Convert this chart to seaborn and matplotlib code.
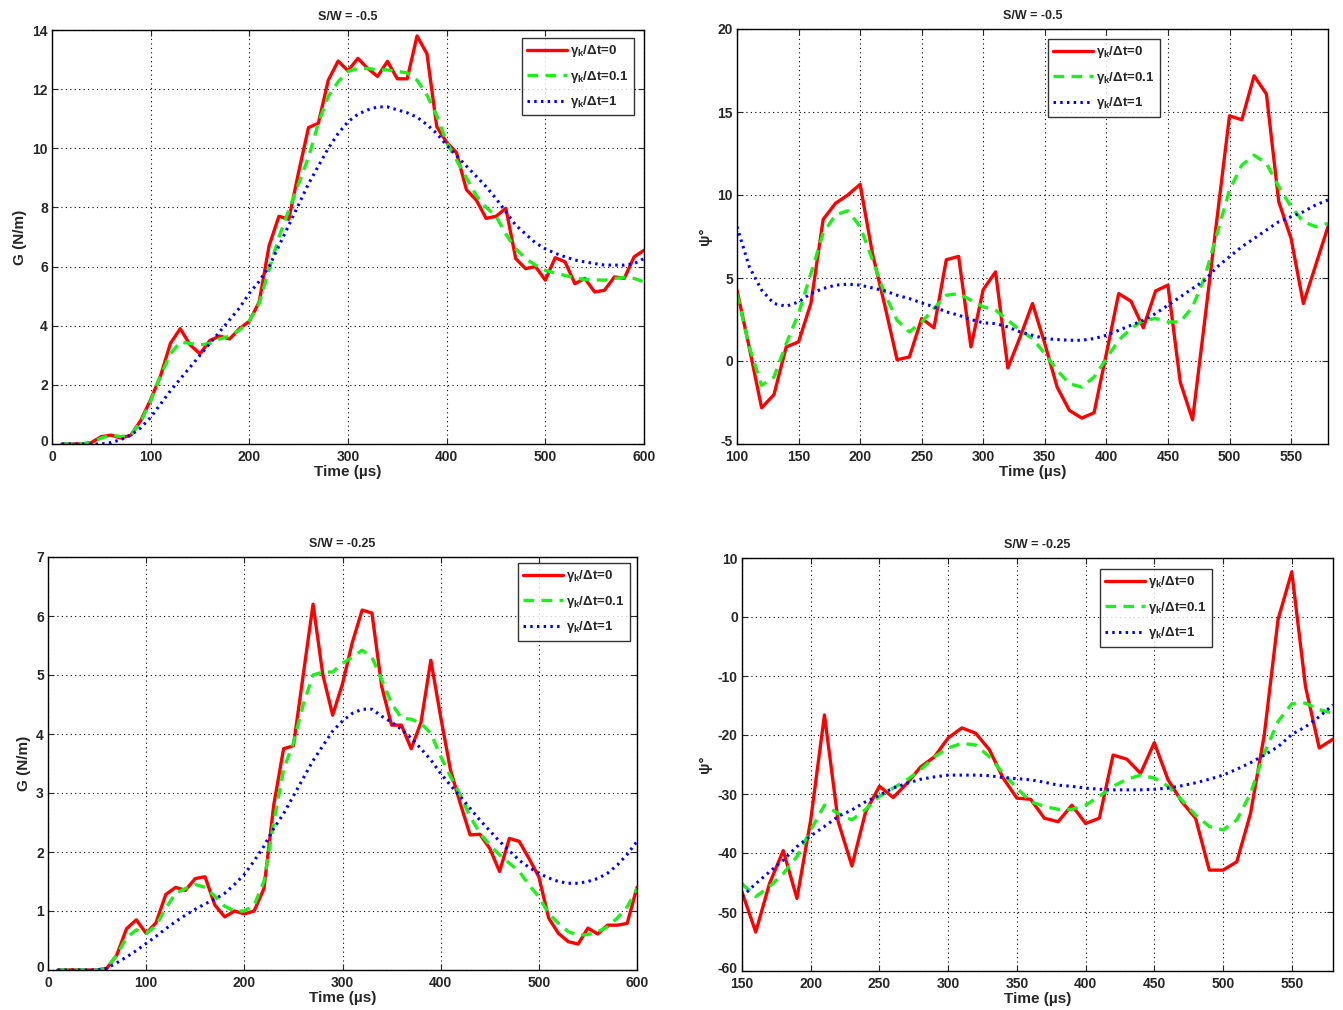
import numpy as np
import pandas as pd
import matplotlib
matplotlib.use("Agg")
import matplotlib.pyplot as plt
import matplotlib.transforms as mtransforms
import seaborn as sns

# ---------------- data ----------------
t_G = list(range(10, 610, 10))          # 10..600
t_psi1 = list(range(100, 590, 10))      # 100..580
t_psi2 = list(range(150, 590, 10))      # 150..580

G1_r = [0, 0, 0, 0.05, 0.25, 0.3, 0.2, 0.3, 0.8, 1.5, 2.3, 3.4, 3.9, 3.35, 3.05, 3.5, 3.65, 3.55, 3.9, 4.15,
        4.8, 6.7, 7.7, 7.6, 9.2, 10.7, 10.85, 12.3, 12.95, 12.62, 13.04, 12.7, 12.43, 12.94, 12.35, 12.35, 13.8, 13.2, 10.73, 10.2,
        9.85, 8.6, 8.25, 7.63, 7.7, 7.97, 6.27, 5.93, 6.0, 5.54, 6.3, 6.16, 5.42, 5.6, 5.14, 5.2, 5.65, 5.6, 6.33, 6.55]
G1_g = [0, 0, 0, 0.05, 0.2, 0.3, 0.25, 0.3, 0.75, 1.45, 2.3, 3.05, 3.45, 3.4, 3.35, 3.4, 3.55, 3.65, 3.85, 4.15,
        4.75, 5.9, 7.0, 7.9, 8.8, 9.7, 10.85, 11.75, 12.25, 12.6, 12.7, 12.7, 12.65, 12.65, 12.6, 12.55, 12.3, 11.8, 11.1, 10.2,
        9.6, 9.0, 8.4, 8.0, 7.7, 7.1, 6.6, 6.27, 6.05, 5.87, 5.78, 5.7, 5.62, 5.56, 5.55, 5.54, 5.6, 5.63, 5.6, 5.48]
G1_b = [0, 0, 0, 0, 0, 0.05, 0.15, 0.3, 0.55, 0.9, 1.35, 1.8, 2.2, 2.6, 3.0, 3.4, 3.8, 4.2, 4.6, 5.1,
        5.5, 6.0, 6.7, 7.4, 8.1, 8.8, 9.4, 10.0, 10.5, 10.9, 11.15, 11.3, 11.4, 11.4, 11.3, 11.2, 11.05, 10.8, 10.5, 10.1,
        9.75, 9.4, 9.05, 8.7, 8.3, 7.85, 7.4, 7.1, 6.8, 6.6, 6.45, 6.33, 6.22, 6.16, 6.1, 6.05, 6.05, 6.05, 6.1, 6.27]

P1_r = [4.27, 0.8, -2.82, -2.03, 0.85, 1.15, 3.46, 8.53, 9.5, 10.0, 10.64, 6.48, 3.36, 0.08, 0.24, 2.56, 2.0, 6.1, 6.3, 0.85,
        4.3, 5.37, -0.42, 1.45, 3.46, 1.05, -1.57, -2.98, -3.44, -3.12, 0.44, 4.06, 3.6, 2.0, 4.22, 4.57, -1.27, -3.54, 2.5, 8.67,
        14.77, 14.53, 17.18, 16.08, 9.6, 7.38, 3.46, 5.77, 8.09]
P1_g = [4.06, 0.85, -1.47, -0.97, 1.05, 2.86, 5.27, 7.7, 8.8, 9.05, 8.1, 6.1, 4.06, 2.45, 1.75, 2.35, 3.16, 3.96, 4.06, 3.66,
        3.26, 3.06, 2.45, 1.85, 1.35, 0.44, -0.56, -1.37, -1.57, -0.97, 0.14, 1.25, 1.95, 2.45, 2.56, 2.35, 2.35, 3.26, 5.07, 7.69,
        10.3, 11.8, 12.4, 11.9, 10.5, 9.3, 8.39, 8.09, 8.29]
P1_b = [8.09, 5.67, 4.27, 3.46, 3.3, 3.56, 4.06, 4.37, 4.57, 4.63, 4.57, 4.4, 4.23, 3.96, 3.76, 3.5, 3.26, 2.96, 2.76, 2.5,
        2.3, 2.25, 2.05, 1.75, 1.55, 1.35, 1.29, 1.25, 1.25, 1.35, 1.55, 1.85, 2.15, 2.45, 2.86, 3.36, 3.86, 4.37, 4.87, 5.67,
        6.28, 6.88, 7.38, 7.89, 8.39, 8.69, 8.99, 9.4, 9.7]

G2_r = [0, 0, 0, 0, 0, 0.03, 0.25, 0.7, 0.85, 0.62, 0.8, 1.28, 1.4, 1.35, 1.55, 1.58, 1.1, 0.9, 1.0, 0.95,
        1.0, 1.38, 2.8, 3.75, 3.8, 5.0, 6.2, 5.0, 4.32, 4.85, 5.55, 6.1, 6.05, 4.8, 4.15, 4.15, 3.75, 4.2, 5.25, 4.29,
        3.39, 2.82, 2.29, 2.3, 2.06, 1.67, 2.23, 2.18, 1.89, 1.58, 0.88, 0.62, 0.48, 0.44, 0.71, 0.61, 0.76, 0.76, 0.79, 1.4]
G2_g = [0, 0, 0, 0, 0, 0.03, 0.25, 0.55, 0.68, 0.62, 0.75, 1.05, 1.3, 1.38, 1.45, 1.4, 1.25, 1.08, 1.0, 1.0,
        1.1, 1.5, 2.5, 3.4, 3.85, 4.5, 5.0, 5.05, 5.05, 5.2, 5.3, 5.42, 5.3, 4.92, 4.52, 4.27, 4.25, 4.18, 4.01, 3.62,
        3.28, 2.97, 2.6, 2.32, 2.12, 1.95, 1.81, 1.67, 1.44, 1.24, 0.96, 0.79, 0.65, 0.59, 0.6, 0.65, 0.73, 0.88, 1.07, 1.38]
G2_b = [0, 0, 0, 0, 0, 0.03, 0.12, 0.22, 0.33, 0.45, 0.57, 0.7, 0.82, 0.93, 1.03, 1.12, 1.2, 1.3, 1.45, 1.62,
        1.85, 2.1, 2.4, 2.65, 2.95, 3.25, 3.55, 3.8, 4.05, 4.22, 4.35, 4.42, 4.42, 4.3, 4.2, 4.08, 3.93, 3.75, 3.56, 3.33,
        3.13, 2.94, 2.74, 2.54, 2.36, 2.18, 2.02, 1.86, 1.74, 1.64, 1.56, 1.5, 1.47, 1.47, 1.5, 1.55, 1.64, 1.78, 1.96, 2.18]

P2_r = [-46.6, -53.4, -45.2, -39.6, -47.7, -34.4, -16.6, -34.7, -42.2, -33.0, -28.7, -30.6, -28.2, -25.4, -23.7, -20.5, -18.8, -19.7, -22.5, -27.3,
        -30.7, -30.9, -34.1, -34.7, -31.9, -35.0, -34.1, -23.4, -24.1, -26.5, -21.3, -27.6, -31.3, -34.1, -42.9, -42.9, -41.5, -33.3, -20.0, -0.45,
        7.64, -11.8, -22.2, -20.7]
P2_g = [-45.2, -47.4, -45.7, -43.5, -40.6, -36.1, -31.9, -33.3, -34.4, -32.6, -30.4, -29.0, -27.6, -25.9, -23.7, -22.2, -21.4, -21.7, -23.7, -26.5,
        -29.0, -31.3, -32.1, -32.6, -32.6, -31.9, -30.4, -28.7, -27.5, -26.8, -27.3, -28.7, -31.0, -33.6, -35.5, -36.1, -34.4, -29.9, -23.1, -17.7,
        -14.7, -14.6, -15.7, -16.3]
P2_b = [-47.4, -45.2, -43.2, -41.2, -38.9, -37.1, -35.5, -33.8, -32.7, -31.3, -30.2, -29.0, -28.2, -27.5, -27.1, -26.8, -26.8, -26.8, -26.9, -27.2,
        -27.4, -27.6, -28.0, -28.5, -28.7, -29.0, -29.2, -29.3, -29.3, -29.3, -29.2, -29.0, -28.6, -28.1, -27.5, -26.8, -25.8, -24.7, -23.4, -22.0,
        -19.9, -18.6, -16.9, -14.9]

legend_labels = [r"$\gamma_k$/Δt=0", r"$\gamma_k$/Δt=0.1", r"$\gamma_k$/Δt=1"]
titles = ["S/W = -0.5", "S/W = -0.5", "S/W = -0.25", "S/W = -0.25"]
xlabel = "Time (µs)"
ylabels = ["G (N/m)", "ψ°", "G (N/m)", "ψ°"]

# ---------------- style ----------------
sns.set_style("ticks")
plt.rcParams["font.family"] = ["Liberation Sans", "DejaVu Sans"]
plt.rcParams["font.weight"] = "bold"
plt.rcParams["axes.unicode_minus"] = False
plt.rcParams["mathtext.fontset"] = "custom"
plt.rcParams["mathtext.rm"] = "Liberation Sans:bold"
plt.rcParams["mathtext.it"] = "Liberation Sans:bold"
plt.rcParams["mathtext.bf"] = "Liberation Sans:bold"
plt.rcParams["mathtext.default"] = "bf"

W, H = 1343, 1010
fig = plt.figure(figsize=(W / 100, H / 100), dpi=100)

# axes boxes in pixels: left, right, top, bottom
boxes = [(52, 644, 30, 444), (737, 1328, 29, 444), (48, 637, 557, 970), (742, 1333, 558, 971)]
legend_anchor = [(0.794, 0.981), (0.526, 0.976), (0.798, 0.985), (0.606, 0.973)]

panels = [
    (t_G, G1_r, G1_g, G1_b, (0, 600), (0, 14), np.arange(0, 601, 100), np.arange(0, 15, 2)),
    (t_psi1, P1_r, P1_g, P1_b, (100, 580), (-5, 20), np.arange(100, 551, 50), np.arange(-5, 21, 5)),
    (t_G, G2_r, G2_g, G2_b, (0, 600), (0, 7), np.arange(0, 601, 100), np.arange(0, 8, 1)),
    (t_psi2, P2_r, P2_g, P2_b, (150, 580), (-60, 10), np.arange(150, 551, 50), np.arange(-60, 11, 10)),
]

styles = [
    dict(color=(1, 0, 0), linestyle="-", linewidth=2.4),
    dict(color=(0.1, 0.95, 0.1), linestyle=(0, (3.2, 2.2)), linewidth=2.4),
    dict(color=(0, 0, 1), linestyle=(0, (0.8, 1.4)), linewidth=2.2),
]

for i, (box, panel) in enumerate(zip(boxes, panels)):
    l, r, t, b = box
    ax = fig.add_axes([l / W, 1 - b / H, (r - l) / W, (b - t) / H])
    tt, yr, yg, yb, xlim, ylim, xt, yt = panel
    df = pd.DataFrame({"t": tt, "r": yr, "g": yg, "b": yb})
    for col, st, lab in zip(["r", "g", "b"], styles, legend_labels):
        sns.lineplot(data=df, x="t", y=col, ax=ax, label=lab, **st)
    ax.set_xlim(*xlim)
    ax.set_ylim(*ylim)
    ax.set_xticks(xt)
    ax.set_yticks(yt)
    ax.grid(True, color="black", linestyle=(0, (1, 3)), linewidth=0.8)
    ax.tick_params(direction="in", top=True, right=True, length=4, width=0.8, labelsize=10)
    ax.tick_params(axis="x", pad=4)
    ax.tick_params(axis="y", pad=3)
    for lab in ax.get_xticklabels() + ax.get_yticklabels():
        lab.set_fontweight("bold")
    # lift the lowest y tick label a little so it does not touch the first x label
    low = ax.get_yticklabels()[0]
    low.set_transform(low.get_transform() + mtransforms.ScaledTranslation(0, 3 / 100, fig.dpi_scale_trans))
    for sp in ax.spines.values():
        sp.set_color("black")
        sp.set_linewidth(1.0)
    ax.set_xlabel(xlabel, fontsize=11, fontweight="bold", labelpad=1)
    ax.set_ylabel(ylabels[i], fontsize=11, fontweight="bold", labelpad=4)
    ax.set_title(titles[i], fontsize=9, fontweight="bold", pad=7)
    leg = ax.legend(loc="upper left", bbox_to_anchor=legend_anchor[i], fontsize=9.5, frameon=True,
                    fancybox=False, edgecolor="black", handlelength=3.0, borderpad=0.4, labelspacing=0.72,
                    handletextpad=0.25, borderaxespad=0)
    leg.get_frame().set_linewidth(1.0)
    for txt in leg.get_texts():
        txt.set_fontweight("bold")

fig.savefig("out.png", dpi=100)
